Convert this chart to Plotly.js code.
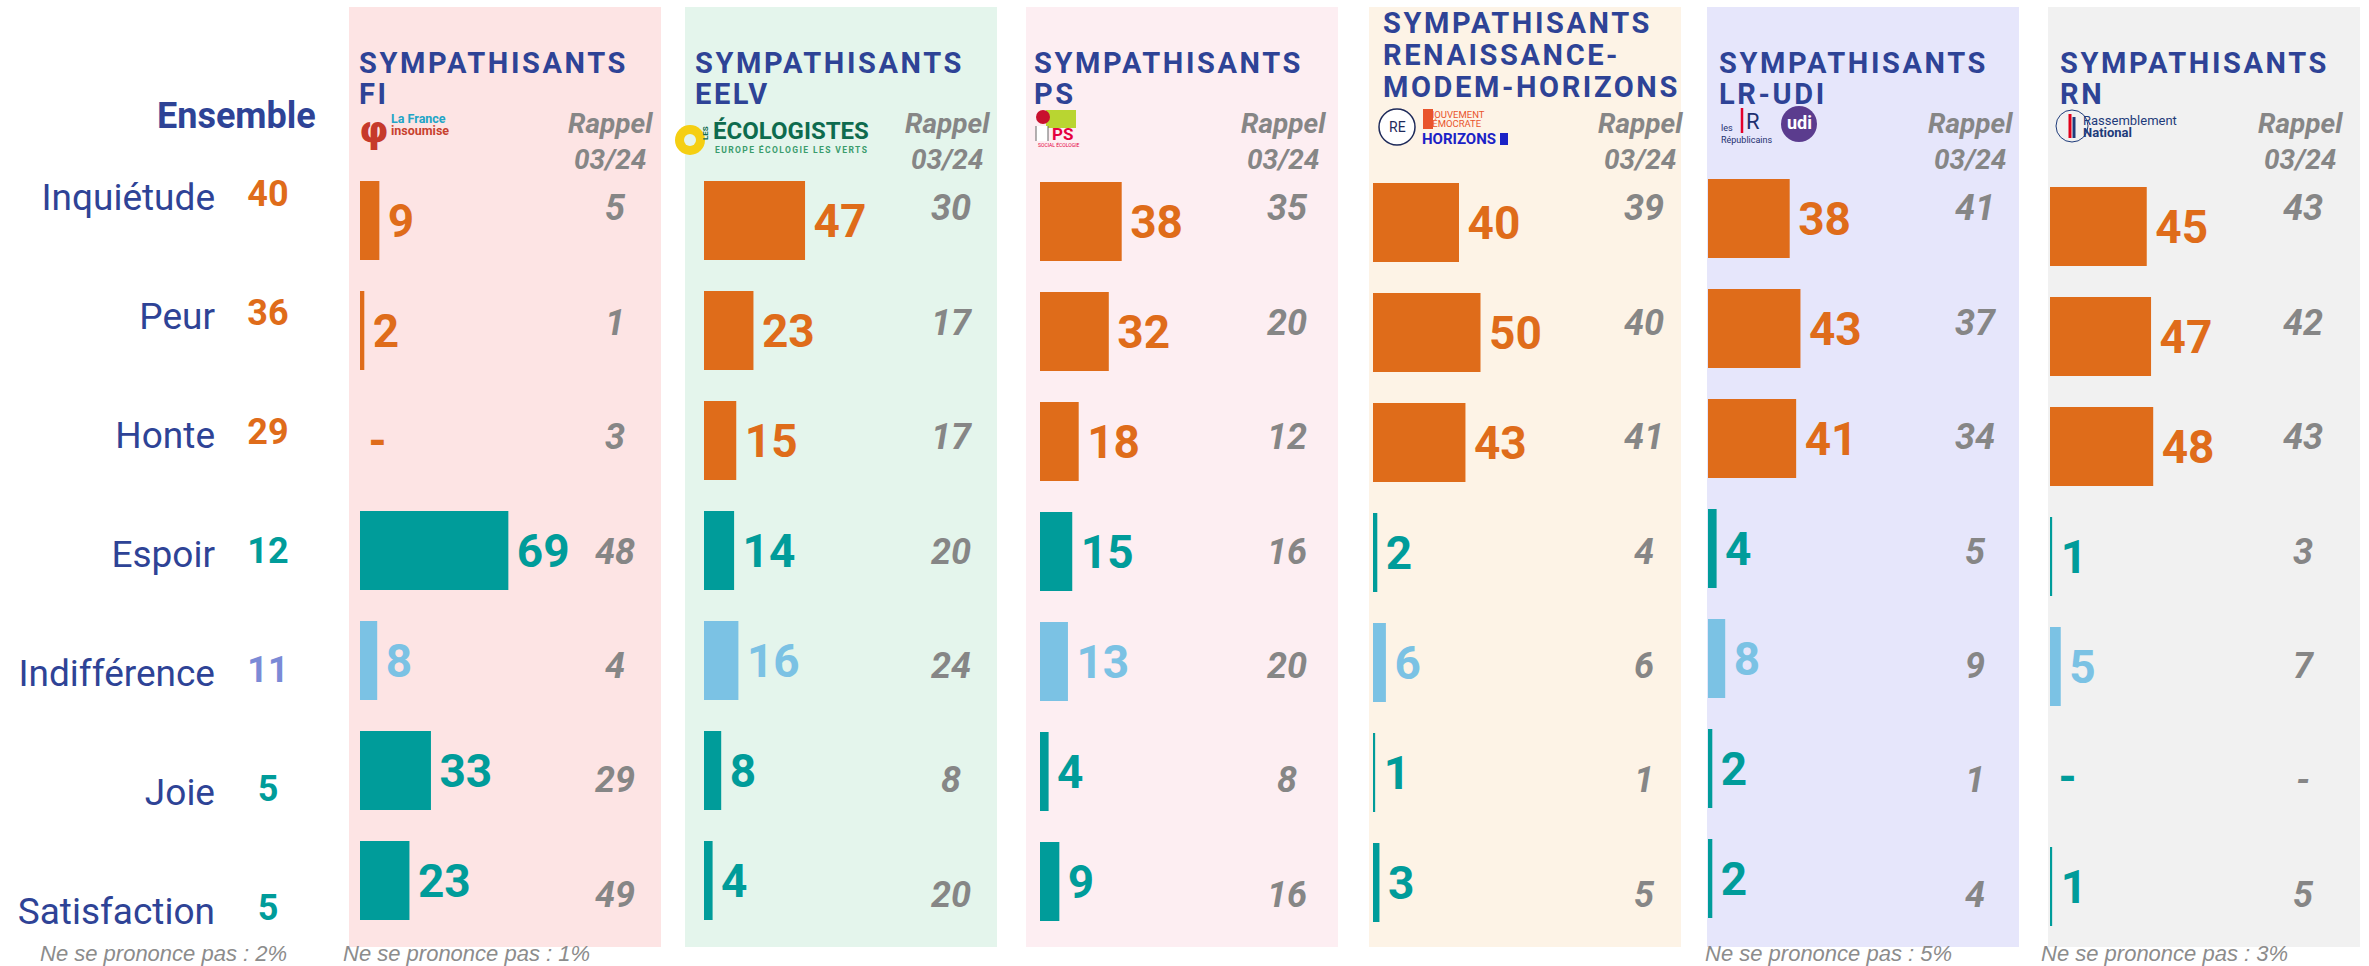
<!DOCTYPE html>
<html><head><meta charset="utf-8">
<script src="https://cdn.plot.ly/plotly-3.0.1.min.js"></script>
<style>body{margin:0;background:#fff;overflow:hidden}</style>
<style id="dyn"></style>
</head><body><div id="chart" style="width:2369px;height:966px"></div>
<script>
// ---------- DATA ----------
const emotions = ['Inquiétude','Peur','Honte','Espoir','Indifférence','Joie','Satisfaction'];
const ensemble = [40,36,29,12,11,5,5];
const groupHeaders = [
  ['SYMPATHISANTS','FI'],
  ['SYMPATHISANTS','EELV'],
  ['SYMPATHISANTS','PS'],
  ['SYMPATHISANTS','RENAISSANCE-','MODEM-HORIZONS'],
  ['SYMPATHISANTS','LR-UDI'],
  ['SYMPATHISANTS','RN']
];
const fiValues   = [9,2,null,69,8,33,23];
const fiRappel   = [5,1,3,48,4,29,49];
const eelvValues = [47,23,15,14,16,8,4];
const eelvRappel = [30,17,17,20,24,8,20];
const psValues   = [38,32,18,15,13,4,9];
const psRappel   = [35,20,12,16,20,8,16];
const reValues   = [40,50,43,2,6,1,3];
const reRappel   = [39,40,41,4,6,1,5];
const lrValues   = [38,43,41,4,8,2,2];
const lrRappel   = [41,37,34,5,9,1,4];
const rnValues   = [45,47,48,1,5,null,1];
const rnRappel   = [43,42,43,3,7,null,5];
const nspEnsemble = 2;
const nspGroups = [1,null,null,null,5,3];
const rappelTitle = 'Rappel<br>03/24';
const ensembleTitle = 'Ensemble';

// ---------- STYLE / GEOMETRY ----------
const W=2369, H=966;
const px = x => x/W, py = y => 1 - y/H;
const NAVY='#2E4396', ORANGE='#DF6C1A', TEAL='#009C9A', LBLUE='#7BC2E4', PERI='#7B8AD6', GREY='#868686';
const barColors = [ORANGE,ORANGE,ORANGE,TEAL,LBLUE,TEAL,TEAL];
const ensColors = [ORANGE,ORANGE,ORANGE,TEAL,PERI,TEAL,TEAL];
const panelBg = ['#FDE4E4','#E4F5EC','#FDEEF2','#FDF3E6','#E6E6FB','#F1F1F1'];
const panelX = [[349,661],[685,997],[1026,1338],[1369,1681],[1707,2019],[2048,2360]];
const panelY = [7,947];
const barLeft = [360,704,1040,1373,1708,2050];
const barC0 = [220.5,220.5,221.5,222.5,218.5,226.5];
const STEP=110, BARW=79, PXU=2.15, BARSPAN=230, LABELSHIFT=5;
const rappelCx = [615,951,1287,1644,1975,2303];
const rappelHdrCx = [610,948,1283,1640,1970,2300];
const headerLeft = [357,693,1032,1381,1717,2058];
const RC0=211.5, RSTEP=114.4;
const EC0=197, ESTEP=119;
const F='Roboto';

const groups = [
  {values: fiValues, rappel: fiRappel},
  {values: eelvValues, rappel: eelvRappel},
  {values: psValues, rappel: psRappel},
  {values: reValues, rappel: reRappel},
  {values: lrValues, rappel: lrRappel},
  {values: rnValues, rappel: rnRappel}
];

const traces = [];
const layout = {
  width: W, height: H, margin:{l:0,r:0,t:0,b:0},
  paper_bgcolor:'#ffffff', plot_bgcolor:'rgba(0,0,0,0)',
  showlegend:false, font:{family:F}, shapes:[], annotations:[]
};
const hide = {showgrid:false, zeroline:false, showticklabels:false, showline:false, ticks:'', fixedrange:true};

groups.forEach((g,i)=>{
  const xa='x'+(i+1), ya='y'+(i+1), yt='y'+(i+14);
  traces.push({type:'bar', orientation:'h', x:g.values, y:emotions, xaxis:xa, yaxis:ya,
    width:BARW/STEP, marker:{color:barColors}, hoverinfo:'skip'});
  traces.push({type:'scatter', mode:'markers+text', x:g.values.map(v=>v==null?0:v), y:emotions,
    marker:{size:12, opacity:0},
    text:g.values.map(v=>v==null?'-':String(v)), textposition:'middle right',
    textfont:{family:F, size:46, weight:700, color:barColors}, cliponaxis:false,
    xaxis:xa, yaxis:yt, hoverinfo:'skip'});
  traces.push({type:'scatter', mode:'text', x:emotions.map(()=> 'Rappel 03/24'), y:emotions,
    text:g.rappel.map(v=>v==null?'-':String(v)), textposition:'middle center',
    textfont:{family:F, size:36, weight:700, style:'italic', color:GREY}, cliponaxis:false,
    xaxis:'x'+(i+7), yaxis:'y7', hoverinfo:'skip'});
  layout['xaxis'+(i+1)] = Object.assign({domain:[px(barLeft[i]), px(barLeft[i]+BARSPAN)], range:[0,BARSPAN/PXU], anchor:ya}, hide);
  layout['yaxis'+(i+1)] = Object.assign({domain:[py(barC0[i]+6.5*STEP), py(barC0[i]-0.5*STEP)], type:'category',
    categoryorder:'array', categoryarray:emotions, range:[6.5,-0.5], anchor:xa}, hide);
  const c1 = barC0[i]+LABELSHIFT;
  layout['yaxis'+(i+14)] = Object.assign({domain:[py(c1+6.5*STEP), py(c1-0.5*STEP)], type:'category',
    categoryorder:'array', categoryarray:emotions, range:[6.5,-0.5], anchor:xa}, hide);
  layout['xaxis'+(i+7)] = Object.assign({domain:[px(rappelCx[i]-30), px(rappelCx[i]+30)], type:'category', range:[-0.5,0.5], anchor:'y7'}, hide);
  layout.shapes.push({type:'rect', xref:'paper', yref:'paper', layer:'below',
    x0:px(panelX[i][0]), x1:px(panelX[i][1]), y0:py(panelY[1]), y1:py(panelY[0]),
    fillcolor:panelBg[i], line:{width:0}});
});
layout.yaxis7 = Object.assign({domain:[py(RC0+6.5*RSTEP), py(RC0-0.5*RSTEP)], type:'category',
  categoryorder:'array', categoryarray:emotions, range:[6.5,-0.5], anchor:'x7'}, hide);

// Ensemble column
traces.push({type:'scatter', mode:'text', x:emotions.map(()=> 'Ensemble'), y:emotions,
  text:ensemble.map(String), textposition:'middle center',
  textfont:{family:F, size:36, weight:700, color:ensColors}, cliponaxis:false,
  xaxis:'x13', yaxis:'y8', hoverinfo:'skip'});
layout.xaxis13 = Object.assign({domain:[px(216), px(320)], type:'category', range:[-0.5,0.5], anchor:'y8'}, hide);
layout.yaxis8 = Object.assign({}, hide, {domain:[0, py(EC0-0.5*ESTEP)], type:'category', categoryorder:'array',
  categoryarray:emotions, range:[6+(H-(EC0+6*ESTEP))/ESTEP, -0.5], anchor:'x13',
  showticklabels:true, tickfont:{family:F, size:37, color:NAVY}});

// ---------- ANNOTATIONS ----------
const A = layout.annotations;
const spacedIdx = [], smallSpacedIdx = [];
groupHeaders.forEach((lines,i)=>{
  const y0 = lines.length===3 ? 23 : 62.5;
  lines.forEach((t,k)=>{
    spacedIdx.push(A.length);
    A.push({xref:'paper', yref:'paper', x:px(headerLeft[i]), y:py(y0+k*32), xanchor:'left', yanchor:'middle', align:'left',
      text:t, showarrow:false, font:{family:F, size:29, weight:700, color:NAVY}});
  });
  A.push({xref:'paper', yref:'paper', x:px(rappelHdrCx[i]), y:py(141.5), xanchor:'center', yanchor:'middle',
    text:rappelTitle, showarrow:false, font:{family:F, size:28, weight:700, style:'italic', color:GREY}});
});
A.push({xref:'paper', yref:'paper', x:px(318), y:py(116), xanchor:'right', yanchor:'middle',
  text:ensembleTitle, showarrow:false, font:{family:F, size:36, weight:700, color:NAVY}});
// NSP notes
const nspLeft = [341,null,null,null,1703,2039];
const noteFont = {family:'Liberation Sans', size:22, style:'italic', color:'#8C8C8C'};
A.push({xref:'paper', yref:'paper', x:px(38), y:py(953), xanchor:'left', yanchor:'middle',
  text:'Ne se prononce pas : '+nspEnsemble+'%', showarrow:false, font:noteFont});
nspGroups.forEach((v,i)=>{ if(v!=null) A.push({xref:'paper', yref:'paper', x:px(nspLeft[i]), y:py(953), xanchor:'left', yanchor:'middle',
  text:'Ne se prononce pas : '+v+'%', showarrow:false, font:noteFont}); });

// ---------- LOGOS (approximate, drawn as text + shapes) ----------
function txt(x,y,t,size,color,opts){ const o=Object.assign({xref:'paper', yref:'paper', x:px(x), y:py(y), xanchor:'left', yanchor:'middle',
  text:t, showarrow:false, font:{family:F, size:size, color:color}}, opts||{}); if(opts&&opts.font) o.font=Object.assign({family:F,size:size,color:color},opts.font); A.push(o); return A.length-1; }
function circ(cx,cy,r,fill,line){ layout.shapes.push({type:'circle', xref:'paper', yref:'paper', x0:px(cx-r), x1:px(cx+r), y0:py(cy+r), y1:py(cy-r), fillcolor:fill, line:line||{width:0}}); }
function rect(x0,y0,x1,y1,fill){ layout.shapes.push({type:'rect', xref:'paper', yref:'paper', x0:px(x0), x1:px(x1), y0:py(y1), y1:py(y0), fillcolor:fill, line:{width:0}}); }
function seg(x0,y0,x1,y1,color,w){ layout.shapes.push({type:'line', xref:'paper', yref:'paper', x0:px(x0), x1:px(x1), y0:py(y0), y1:py(y1), line:{color:color,width:w}}); }
// FI
txt(357,129,'φ',38,'#C63A2B',{font:{family:'DejaVu Sans', size:38, weight:700, color:'#C63A2B'}});
txt(389,119,'La France',12.5,'#22A5C6',{font:{weight:700}});
txt(389,130,'insoumise',12.5,'#C8412E',{font:{weight:700}});
// EELV
circ(690,140,15,'#F5CF12'); circ(690,140,6,'#E4F5EC');
txt(706,133,'LES',8,'#0E6B4E',{textangle:-90, xanchor:'center', font:{weight:700}});
txt(711,131,'ÉCOLOGISTES',24,'#0E6B4E',{font:{weight:700}});
smallSpacedIdx.push(txt(713,149,'EUROPE ÉCOLOGIE LES VERTS',8.5,'#3A9C6C',{align:'left', font:{weight:700}}));
// PS
rect(1046,110,1076,128,'#B9D531');
circ(1043,117,7,'#C8102E');
rect(1036,126,1048,141,'#FFFFFF'); seg(1036,126,1036,141,'#666',1); seg(1048,126,1048,141,'#666',1);
txt(1050,134,'PS',17,'#E5003F',{font:{weight:700}});
txt(1036,145,'SOCIAL ÉCOLOGIE',5,'#E5003F');
// RE / MoDem / Horizons
circ(1397,127,18,'#FFFFFF',{color:'#1E2A5A',width:1.5});
txt(1397,127,'RE',14,'#1E2A5A',{xanchor:'center'});
rect(1423,109,1433,129,'#E9542C');
txt(1424,114,'MOUVEMENT',9.5,'#E9542C');
txt(1424,124,'DÉMOCRATE',9.5,'#E9542C');
txt(1420,139,'HORIZONS',15,'#1B22C6',{font:{weight:700}});
rect(1500,133,1508,145,'#1B22C6');
// LR-UDI
seg(1742,108,1742,133,'#E4002B',2.5);
txt(1744,121,'R',22,'#1D2F6F');
txt(1719,128,'les',9,'#1D2F6F');
txt(1719,140,'Républicains',9,'#1D2F6F');
circ(1799,124,18,'#5B3C8E');
txt(1799,122,'udi',18,'#FFFFFF',{xanchor:'center', font:{weight:700}});
// RN
circ(2072,126,16,'rgba(0,0,0,0)',{color:'#1E3B7A',width:1});
seg(2070,114,2070,138,'#E1001A',3); seg(2074,117,2074,138,'#1E3B7A',3);
txt(2081,120,'Rassemblement',13,'#1E3B7A');
txt(2081,132,'National',13,'#1E3B7A',{font:{weight:700}});

document.getElementById('dyn').textContent =
  spacedIdx.map(k=>`g.annotation[data-index="${k}"] text`).join(',') + '{letter-spacing:2.6px}' +
  smallSpacedIdx.map(k=>`g.annotation[data-index="${k}"] text`).join(',') + '{letter-spacing:1.4px}';

Plotly.newPlot('chart', traces, layout, {staticPlot:true, displayModeBar:false});
</script>
</body></html>
